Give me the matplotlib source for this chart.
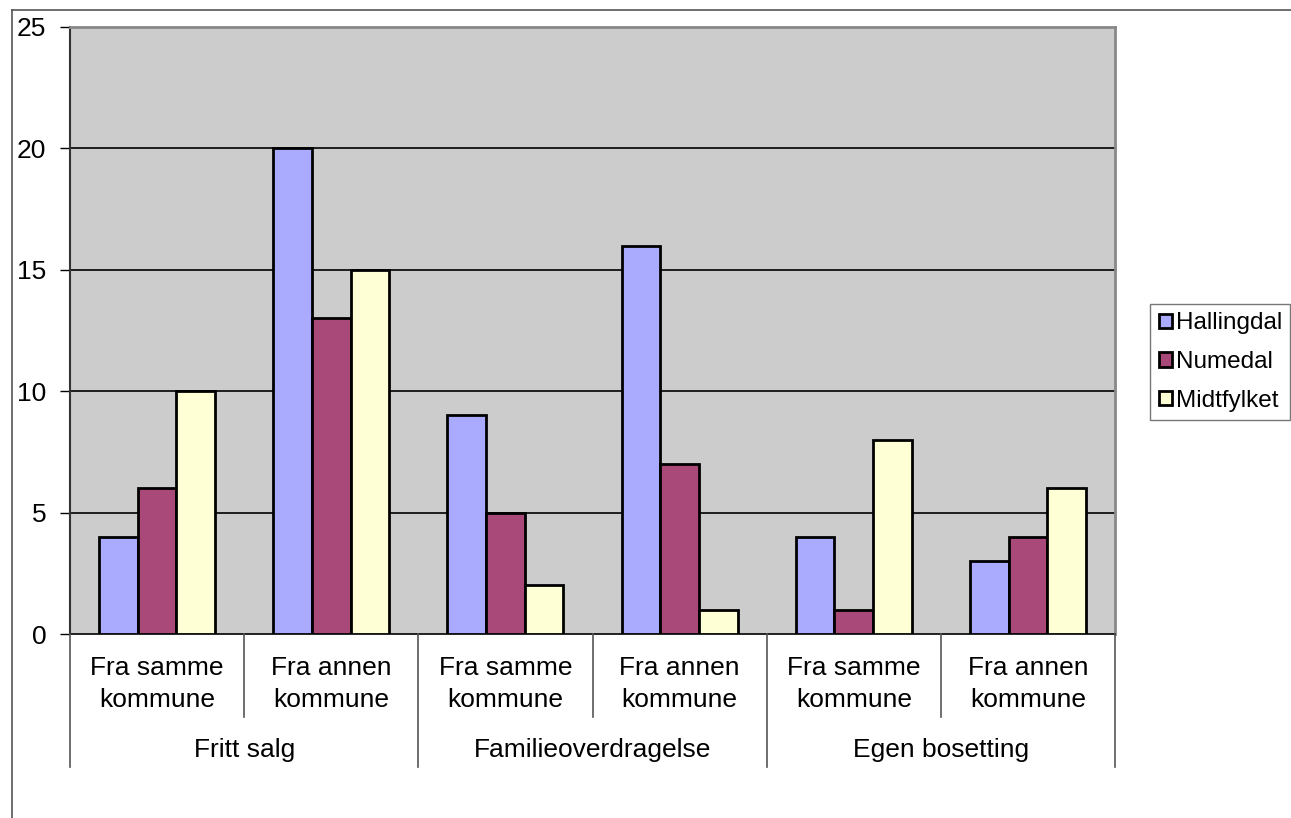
import matplotlib
matplotlib.use("Agg")
import matplotlib.pyplot as plt
from matplotlib.lines import Line2D
from matplotlib.transforms import blended_transform_factory
import numpy as np

plt.rcParams['font.family'] = ['Liberation Sans', 'DejaVu Sans']

groups = ["Fritt salg", "Familieoverdragelse", "Egen bosetting"]
subcats = ["Fra samme\nkommune", "Fra annen\nkommune"]
series = ["Hallingdal", "Numedal", "Midtfylket"]
hallingdal = [4, 20, 9, 16, 4, 3]
numedal = [6, 13, 5, 7, 1, 4]
midtfylket = [10, 15, 2, 1, 8, 6]
colors = ["#AAAAFF", "#A8497A", "#FFFFD6"]
yticks = [0, 5, 10, 15, 20, 25]

W, H = 1291, 818
fig = plt.figure(figsize=(W / 100, H / 100), dpi=100)
ax = fig.add_axes([70 / W, 1 - 634 / H, (1115 - 70) / W, (634 - 27) / H])
ax.set_facecolor("#CCCCCC")

n = len(hallingdal)
x = np.arange(n) + 0.5
bw = 0.222
for k, (vals, c, name) in enumerate(zip([hallingdal, numedal, midtfylket], colors, series)):
    ax.bar(x + (k - 1) * bw, vals, width=bw, color=c, edgecolor="black",
           linewidth=2, label=name, zorder=3)

ax.set_xlim(0, n)
ax.set_ylim(0, 25)
ax.set_yticks(yticks)
ax.set_yticklabels([str(t) for t in yticks], fontsize=19)
ax.tick_params(axis="y", direction="out", length=7, width=1, color="black", pad=10)
ax.set_xticks([])
for t in [5, 10, 15, 20]:
    ax.axhline(t, color="black", linewidth=1.2, zorder=1)
for s in ["top", "right"]:
    ax.spines[s].set_color("#888888")
    ax.spines[s].set_linewidth(2)
ax.spines["left"].set_color("#333333")
ax.spines["left"].set_linewidth(1.5)
ax.spines["bottom"].set_color("black")
ax.spines["bottom"].set_linewidth(1.2)

# category axis labels (two levels)
tr = blended_transform_factory(ax.transData, fig.transFigure)
y0 = 1 - 634 / H
y_inner = 1 - 717 / H
y_outer = 1 - 767 / H
for i in range(n):
    ax.text(i + 0.5, 1 - 684 / H, subcats[i % 2], transform=tr, ha="center",
            va="center", fontsize=19, linespacing=1.45)
for i in [1, 3, 5]:
    fig.add_artist(Line2D([i, i], [y0, y_inner], transform=tr, color="#555555", linewidth=1.2))
for i in [0, 2, 4, 6]:
    fig.add_artist(Line2D([i, i], [y0, y_outer], transform=tr, color="#555555", linewidth=1.2))
for j, g in enumerate(groups):
    ax.text(2 * j + 1, 1 - 750 / H, g, transform=tr, ha="center", va="center", fontsize=19)

# outer chart frame (top and left edges visible)
fig.add_artist(Line2D([12 / W, 1], [1 - 10 / H, 1 - 10 / H], transform=fig.transFigure,
                      color="#555555", linewidth=1.2))
fig.add_artist(Line2D([12 / W, 12 / W], [0, 1 - 10 / H], transform=fig.transFigure,
                      color="#555555", linewidth=1.2))

leg = fig.legend(loc="center left", bbox_to_anchor=(1150 / W, 1 - 362 / H), fontsize=17.5,
                 handlelength=0.55, handleheight=0.55, handletextpad=0.15,
                 labelspacing=0.68, borderpad=0.35, fancybox=False, frameon=True,
                 borderaxespad=0)
leg.get_frame().set_edgecolor("#555555")
leg.get_frame().set_linewidth(1)
for h in leg.legend_handles:
    h.set_linewidth(2)

fig.savefig("out.png", dpi=100)
